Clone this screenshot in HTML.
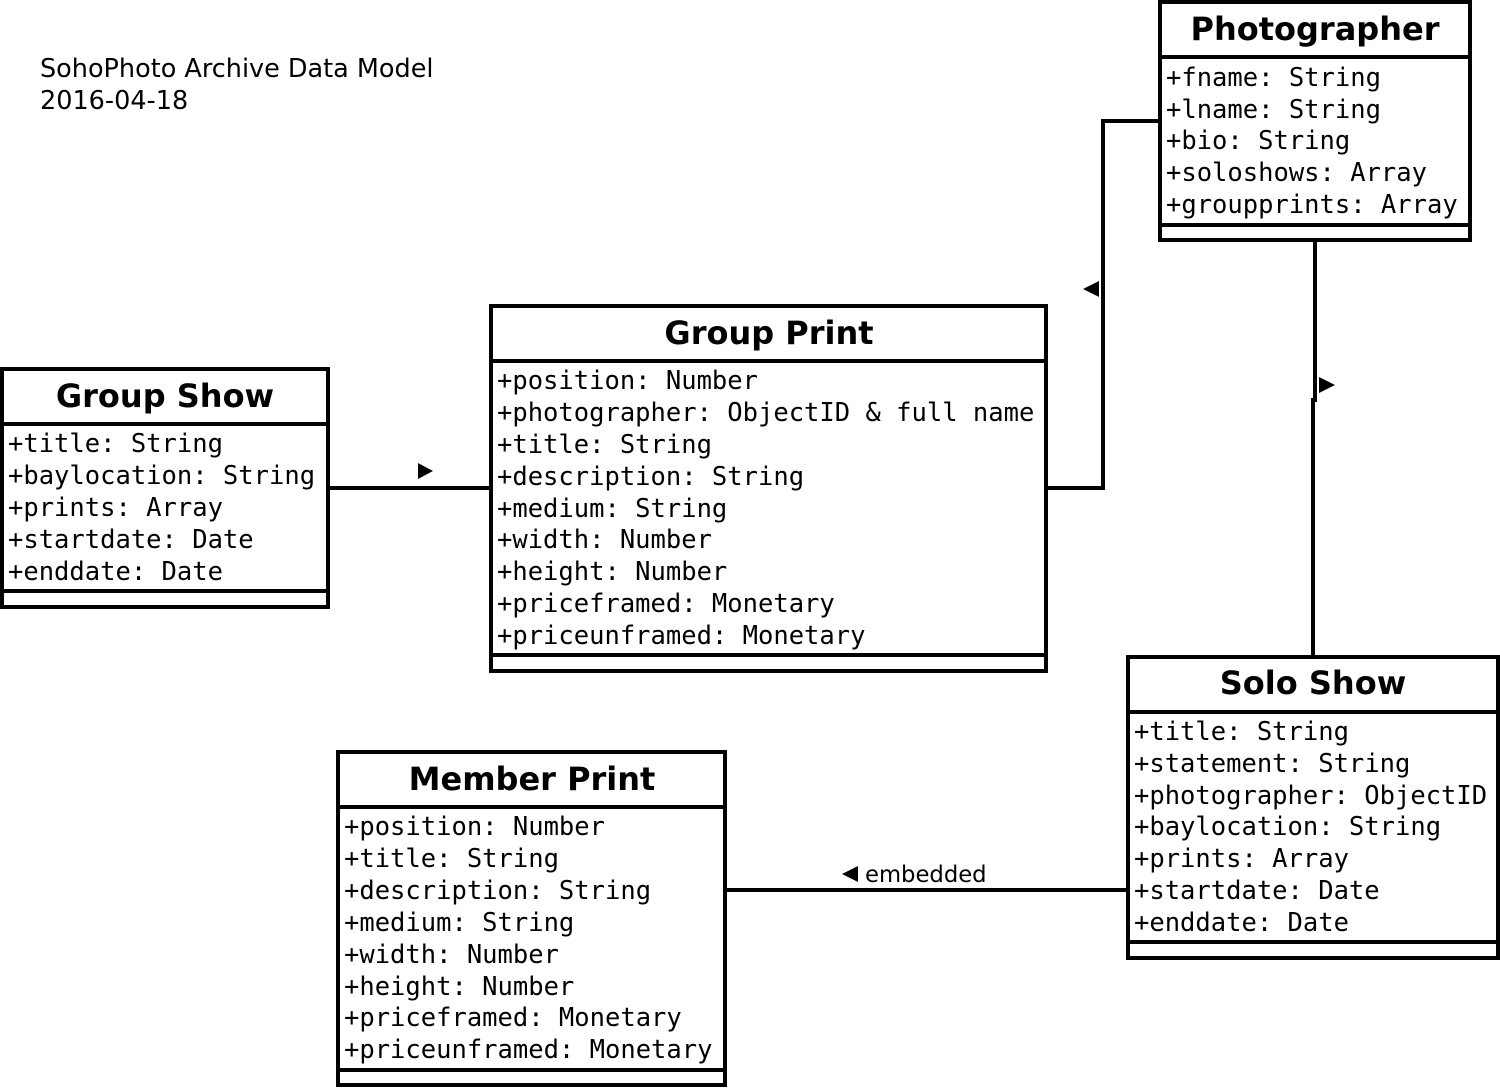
<!DOCTYPE html>
<html><head><meta charset="utf-8"><style>
html,body{margin:0;padding:0;background:#fff;}
svg{display:block;}
.h{font-family:"DejaVu Sans","Liberation Sans",sans-serif;font-weight:bold;font-size:32px;text-anchor:middle;}
.a{font-family:"DejaVu Sans Mono","Liberation Mono",monospace;font-size:25.5px;}
.t{font-family:"DejaVu Sans","Liberation Sans",sans-serif;font-size:25.5px;}
.e{font-family:"DejaVu Sans","Liberation Sans",sans-serif;font-size:22.7px;}
</style></head><body>
<svg width="1500" height="1088" viewBox="0 0 1500 1088" xmlns="http://www.w3.org/2000/svg">
<g fill="none" stroke="#000" stroke-width="4">
<rect x="1160" y="2" width="310" height="238"/>
<line x1="1160" y1="57" x2="1470" y2="57"/>
<line x1="1160" y1="225" x2="1470" y2="225"/>
<rect x="491" y="306" width="555" height="365"/>
<line x1="491" y1="361" x2="1046" y2="361"/>
<line x1="491" y1="655" x2="1046" y2="655"/>
<rect x="2" y="369" width="326" height="238"/>
<line x1="2" y1="424" x2="328" y2="424"/>
<line x1="2" y1="591" x2="328" y2="591"/>
<rect x="1128" y="657" width="370" height="301"/>
<line x1="1128" y1="712" x2="1498" y2="712"/>
<line x1="1128" y1="942" x2="1498" y2="942"/>
<rect x="338" y="752" width="387" height="333"/>
<line x1="338" y1="807" x2="725" y2="807"/>
<line x1="338" y1="1070" x2="725" y2="1070"/>
<polyline points="328,488 491,488"/>
<polyline points="1046,488 1103,488 1103,121 1160,121"/>
<polyline points="1315,240 1315,400 1313,400 1313,657"/>
<line x1="725" y1="890" x2="1128" y2="890"/>
</g>
<g fill="#000">
<polygon points="418,463 433,471 418,479"/>
<polygon points="1099,281 1083,289 1099,297"/>
<polygon points="1319,377 1335,385 1319,393"/>
<polygon points="858,866 842,874 858,882"/>
</g>
<text class="t" x="40" y="77">SohoPhoto Archive Data Model</text>
<text class="t" x="40" y="109">2016-04-18</text>
<text class="e" x="865" y="882">embedded</text>

<text class="h" x="1315" y="40">Photographer</text>
<g class="a">
<text x="1166" y="86">+fname: String</text>
<text x="1166" y="118">+lname: String</text>
<text x="1166" y="149">+bio: String</text>
<text x="1166" y="181">+soloshows: Array</text>
<text x="1166" y="213">+groupprints: Array</text>
</g>

<text class="h" x="769" y="344">Group Print</text>
<g class="a">
<text x="497" y="389">+position: Number</text>
<text x="497" y="421">+photographer: ObjectID &amp; full name</text>
<text x="497" y="453">+title: String</text>
<text x="497" y="485">+description: String</text>
<text x="497" y="517">+medium: String</text>
<text x="497" y="548">+width: Number</text>
<text x="497" y="580">+height: Number</text>
<text x="497" y="612">+priceframed: Monetary</text>
<text x="497" y="644">+priceunframed: Monetary</text>
</g>

<text class="h" x="165" y="407">Group Show</text>
<g class="a">
<text x="8" y="452">+title: String</text>
<text x="8" y="484">+baylocation: String</text>
<text x="8" y="516">+prints: Array</text>
<text x="8" y="548">+startdate: Date</text>
<text x="8" y="580">+enddate: Date</text>
</g>

<text class="h" x="1313" y="694">Solo Show</text>
<g class="a">
<text x="1134" y="740">+title: String</text>
<text x="1134" y="772">+statement: String</text>
<text x="1134" y="804">+photographer: ObjectID</text>
<text x="1134" y="835">+baylocation: String</text>
<text x="1134" y="867">+prints: Array</text>
<text x="1134" y="899">+startdate: Date</text>
<text x="1134" y="931">+enddate: Date</text>
</g>

<text class="h" x="532" y="790">Member Print</text>
<g class="a">
<text x="344" y="835">+position: Number</text>
<text x="344" y="867">+title: String</text>
<text x="344" y="899">+description: String</text>
<text x="344" y="931">+medium: String</text>
<text x="344" y="963">+width: Number</text>
<text x="344" y="995">+height: Number</text>
<text x="344" y="1026">+priceframed: Monetary</text>
<text x="344" y="1058">+priceunframed: Monetary</text>
</g>
</svg>
</body></html>
